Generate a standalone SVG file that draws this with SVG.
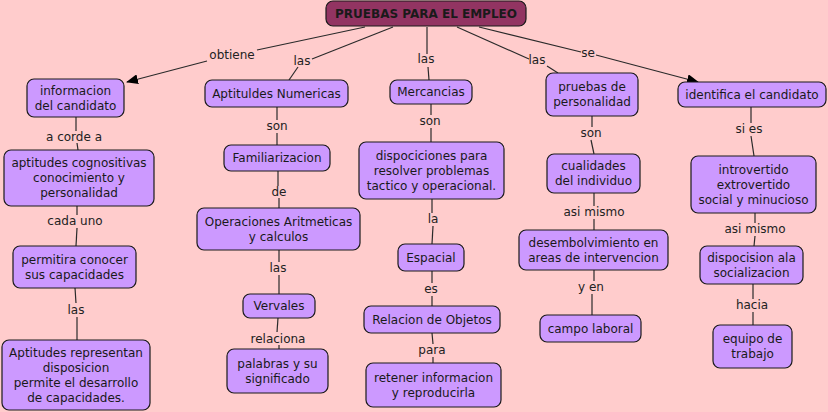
<svg xmlns="http://www.w3.org/2000/svg" width="828" height="412" viewBox="0 0 828 412">
<style>
.node rect{fill:#CC99FF;stroke:#1a1a1a;stroke-width:1.2}
.root rect{fill:#923462;stroke:#1a1a1a;stroke-width:1.2}
text{font-family:"DejaVu Sans",Verdana,sans-serif;font-size:12px;fill:#1a1a1a;text-anchor:middle}
.root text{font-weight:bold}
.links line{stroke:#2a2a2a;stroke-width:1.2;fill:none}
.lbl text{fill:#222}
</style>
<defs>
<marker id="arr" markerWidth="12" markerHeight="10" refX="11" refY="5" orient="auto" markerUnits="userSpaceOnUse">
<path d="M0,0 L12,5 L0,10 Z" fill="#000"/>
</marker>
</defs>
<rect x="0" y="0" width="828" height="412" fill="#FFCCCC"/>
<g class="links">
<line x1="365" y1="27" x2="257" y2="50"/>
<line x1="207" y1="61" x2="127" y2="82" marker-end="url(#arr)"/>
<line x1="393" y1="27" x2="312" y2="59"/>
<line x1="298" y1="67" x2="289" y2="80"/>
<line x1="427" y1="27" x2="427" y2="54"/>
<line x1="428" y1="67" x2="429" y2="80"/>
<line x1="457" y1="27" x2="529" y2="59"/>
<line x1="547" y1="66" x2="558" y2="73"/>
<line x1="479" y1="27" x2="581" y2="52"/>
<line x1="596" y1="55" x2="698" y2="82" marker-end="url(#arr)"/>
<line x1="76" y1="117" x2="76" y2="131"/>
<line x1="77" y1="143" x2="78" y2="150"/>
<line x1="77" y1="206" x2="77" y2="215"/>
<line x1="77" y1="228" x2="76" y2="246"/>
<line x1="75" y1="288" x2="76" y2="303"/>
<line x1="77" y1="317" x2="77" y2="340"/>
<line x1="277" y1="107" x2="277" y2="120"/>
<line x1="277" y1="133" x2="277" y2="145"/>
<line x1="278" y1="171" x2="278" y2="186"/>
<line x1="279" y1="198" x2="279" y2="208"/>
<line x1="279" y1="250" x2="279" y2="262"/>
<line x1="279" y1="275" x2="279" y2="294"/>
<line x1="278" y1="318" x2="277" y2="332"/>
<line x1="279" y1="345" x2="279" y2="349"/>
<line x1="431" y1="104" x2="431" y2="115"/>
<line x1="431" y1="128" x2="431" y2="142"/>
<line x1="432" y1="199" x2="432" y2="213"/>
<line x1="433" y1="226" x2="432" y2="244"/>
<line x1="432" y1="271" x2="432" y2="283"/>
<line x1="432" y1="296" x2="432" y2="306"/>
<line x1="432" y1="333" x2="433" y2="344"/>
<line x1="433" y1="357" x2="433" y2="363"/>
<line x1="592" y1="116" x2="592" y2="127"/>
<line x1="591" y1="140" x2="594" y2="154"/>
<line x1="594" y1="193" x2="594" y2="206"/>
<line x1="594" y1="219" x2="594" y2="230"/>
<line x1="594" y1="270" x2="594" y2="281"/>
<line x1="592" y1="294" x2="592" y2="315"/>
<line x1="751" y1="107" x2="751" y2="123"/>
<line x1="751" y1="136" x2="754" y2="156"/>
<line x1="755" y1="213" x2="755" y2="223"/>
<line x1="755" y1="236" x2="754" y2="246"/>
<line x1="753" y1="284" x2="753" y2="299"/>
<line x1="753" y1="312" x2="753" y2="325"/>
</g>
<g class="lbl">
<text x="232" y="59">obtiene</text>
<text x="302" y="65">las</text>
<text x="426" y="63">las</text>
<text x="537" y="64">las</text>
<text x="588" y="57">se</text>
<text x="74" y="141">a corde a</text>
<text x="75" y="225">cada uno</text>
<text x="76" y="314">las</text>
<text x="277" y="130">son</text>
<text x="279" y="196">de</text>
<text x="278" y="272">las</text>
<text x="278" y="343">relaciona</text>
<text x="430" y="125">son</text>
<text x="433" y="223">la</text>
<text x="431" y="293">es</text>
<text x="432" y="354">para</text>
<text x="591" y="137">son</text>
<text x="594" y="216">asi mismo</text>
<text x="591" y="291">y en</text>
<text x="749" y="133">si es</text>
<text x="755" y="233">asi mismo</text>
<text x="752" y="309">hacia</text>
</g>
<g id="root" class="root"><rect x="326" y="1" width="200" height="25" rx="7"/><text x="426" y="18">PRUEBAS PARA EL EMPLEO</text></g>
<g id="n1" class="node"><rect x="27" y="79" width="97" height="38" rx="7"/><text x="75.5" y="94.5">informacion</text><text x="75.5" y="109.5">del candidato</text></g>
<g id="n2" class="node"><rect x="205" y="80" width="143" height="27" rx="7"/><text x="276.5" y="97.5">Aptituldes Numericas</text></g>
<g id="n3" class="node"><rect x="390" y="80" width="82" height="24" rx="7"/><text x="431" y="96">Mercancias</text></g>
<g id="n4" class="node"><rect x="546" y="73" width="92" height="43" rx="7"/><text x="592" y="91">pruebas de</text><text x="592" y="106">personalidad</text></g>
<g id="n5" class="node"><rect x="678" y="82" width="148" height="25" rx="7"/><text x="752" y="98.5">identifica el candidato</text></g>
<g id="n6" class="node"><rect x="4" y="150" width="150" height="56" rx="7"/><text x="79" y="167">aptitudes cognositivas</text><text x="79" y="182">conocimiento y</text><text x="79" y="197">personalidad</text></g>
<g id="n7" class="node"><rect x="224" y="145" width="106" height="26" rx="7"/><text x="277" y="162">Familiarizacion</text></g>
<g id="n8" class="node"><rect x="359" y="142" width="145" height="57" rx="7"/><text x="431.5" y="159.5">dispociciones para</text><text x="431.5" y="174.5">resolver problemas</text><text x="431.5" y="189.5">tactico y operacional.</text></g>
<g id="n9" class="node"><rect x="547" y="154" width="93" height="39" rx="7"/><text x="593.5" y="170">cualidades</text><text x="593.5" y="185">del individuo</text></g>
<g id="n10" class="node"><rect x="691" y="156" width="125" height="57" rx="7"/><text x="753.5" y="173.5">introvertido</text><text x="753.5" y="188.5">extrovertido</text><text x="753.5" y="203.5">social y minucioso</text></g>
<g id="n11" class="node"><rect x="13" y="246" width="123" height="42" rx="7"/><text x="74.5" y="263.5">permitira conocer</text><text x="74.5" y="278.5">sus capacidades</text></g>
<g id="n12" class="node"><rect x="197" y="208" width="163" height="42" rx="7"/><text x="278.5" y="225.5">Operaciones Aritmeticas</text><text x="278.5" y="240.5">y calculos</text></g>
<g id="n13" class="node"><rect x="398" y="244" width="66" height="27" rx="7"/><text x="431" y="261.5">Espacial</text></g>
<g id="n14" class="node"><rect x="519" y="230" width="149" height="40" rx="7"/><text x="593.5" y="246.5">desembolvimiento en</text><text x="593.5" y="261.5">areas de intervencion</text></g>
<g id="n15" class="node"><rect x="700" y="246" width="103" height="38" rx="7"/><text x="751.5" y="261.5">dispocision ala</text><text x="751.5" y="276.5">socializacion</text></g>
<g id="n16" class="node"><rect x="2" y="340" width="148" height="70" rx="7"/><text x="76" y="356.5">Aptitudes representan</text><text x="76" y="371.5">disposicion</text><text x="76" y="386.5">permite el desarrollo</text><text x="76" y="401.5">de capacidades.</text></g>
<g id="n17" class="node"><rect x="243" y="294" width="72" height="24" rx="7"/><text x="279" y="310">Vervales</text></g>
<g id="n18" class="node"><rect x="227" y="349" width="101" height="44" rx="7"/><text x="277.5" y="367.5">palabras y su</text><text x="277.5" y="382.5">significado</text></g>
<g id="n19" class="node"><rect x="364" y="306" width="136" height="27" rx="7"/><text x="432" y="323.5">Relacion de Objetos</text></g>
<g id="n20" class="node"><rect x="366" y="363" width="135" height="44" rx="7"/><text x="433.5" y="381.5">retener informacion</text><text x="433.5" y="396.5">y reproducirla</text></g>
<g id="n21" class="node"><rect x="540" y="315" width="101" height="27" rx="7"/><text x="590.5" y="332.5">campo laboral</text></g>
<g id="n22" class="node"><rect x="713" y="325" width="79" height="43" rx="7"/><text x="752.5" y="343">equipo de</text><text x="752.5" y="358">trabajo</text></g>
</svg>
